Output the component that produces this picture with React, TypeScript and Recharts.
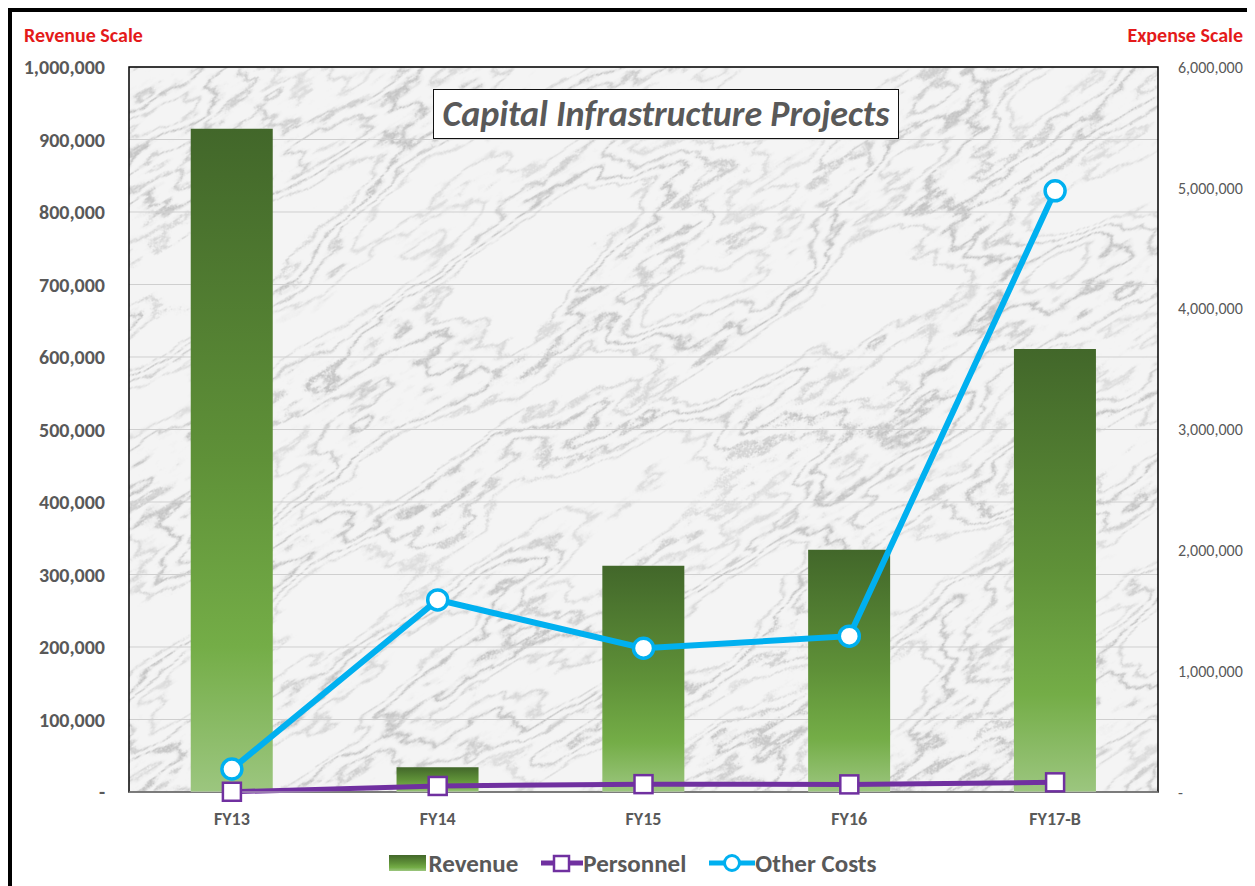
import {
  Bar,
  CartesianGrid,
  ComposedChart,
  Legend,
  Line,
  ReferenceArea,
  XAxis,
  YAxis,
} from "recharts";

const CATEGORIES = ["FY13", "FY14", "FY15", "FY16", "FY17-B"];
const REVENUE = [915000, 34000, 312000, 334000, 611000];
const PERSONNEL = [2000, 50000, 65000, 63000, 80000];
const OTHER_COSTS = [190000, 1590000, 1190000, 1290000, 4975000];

const REVENUE_TICKS = [0, 100000, 200000, 300000, 400000, 500000, 600000, 700000, 800000, 900000, 1000000];
const EXPENSE_TICKS = [0, 1000000, 2000000, 3000000, 4000000, 5000000, 6000000];

const FONT = "Carlito, 'Open Sans', sans-serif";
const GRAY = "#595959";
const RED = "#e41a1a";
const PURPLE = "#7030a0";
const BLUE = "#00b0f0";

const rows = CATEGORIES.map((name, i) => ({
  name,
  Revenue: REVENUE[i],
  Personnel: PERSONNEL[i],
  "Other Costs": OTHER_COSTS[i],
}));

// excel accounting style: zero shows as a dash
const fmt = (v: number) => (v === 0 ? "-" : v.toLocaleString("en-US"));

// marble veins: contour bands of a stretched noise field
const VEINS = "0.96 0.96 0.94 0.86 0.95 0.96 0.96 0.96 0.94 0.8 0.94 0.96 0.96 0.96 0.93 0.76 0.93 0.96 0.96 0.96 0.94 0.84 0.95 0.96 0.96";

const SquareDot = (props: any) => {
  const { cx, cy, index } = props;
  if (cx == null || cy == null) return null;
  return (
    <rect
      key={`sq-${index}`}
      x={cx - 9}
      y={cy - 9}
      width={18}
      height={18}
      fill="#fff"
      stroke={PURPLE}
      strokeWidth={2.5}
    />
  );
};

function LegendBox() {
  const item = { display: "flex", alignItems: "center" };
  return (
    <div
      style={{
        display: "flex",
        justifyContent: "center",
        alignItems: "center",
        gap: 23,
        height: 40,
        fontFamily: FONT,
        fontWeight: 700,
        fontSize: 25,
        color: GRAY,
      }}
    >
      <div style={item}>
        <svg width={40} height={18}>
          <rect x={0} y={1} width={37} height={16} fill="url(#revGrad)" />
        </svg>
        <span>Revenue</span>
      </div>
      <div style={item}>
        <svg width={42} height={20}>
          <line x1={0} y1={10} x2={42} y2={10} stroke={PURPLE} strokeWidth={5} />
          <rect x={13} y={3} width={15} height={15} fill="#fff" stroke={PURPLE} strokeWidth={2.5} />
        </svg>
        <span>Personnel</span>
      </div>
      <div style={item}>
        <svg width={46} height={22}>
          <line x1={0} y1={11} x2={46} y2={11} stroke={BLUE} strokeWidth={5} />
          <circle cx={23} cy={11} r={7.5} fill="#fff" stroke={BLUE} strokeWidth={3} />
        </svg>
        <span>Other Costs</span>
      </div>
    </div>
  );
}

export default function App() {
  return (
    <div
      style={{
        position: "relative",
        width: 1241,
        height: 874,
        marginTop: -1,
        marginLeft: -1,
        borderTop: "5px solid #000",
        borderLeft: "5px solid #000",
        borderRight: "1px solid #000",
        background: "#fff",
      }}
    >
      <ComposedChart
        width={1241}
        height={874}
        data={rows}
        margin={{ top: 55, right: 0, bottom: 3, left: 0 }}
        barCategoryGap="30%"
      >
        <defs>
          <linearGradient id="revGrad" x1="0" y1="0" x2="0" y2="1">
            <stop offset="0%" stopColor="#42672a" />
            <stop offset="50%" stopColor="#5f9138" />
            <stop offset="78%" stopColor="#74ad47" />
            <stop offset="100%" stopColor="#9cc67f" />
          </linearGradient>
          <filter id="marbleNoise" x="0" y="0" width="1" height="1" colorInterpolationFilters="sRGB">
            <feTurbulence type="fractalNoise" baseFrequency="0.0035 0.011" numOctaves="6" seed="11" />
            <feColorMatrix
              type="matrix"
              values="3 0 0 0 -1  3 0 0 0 -1  3 0 0 0 -1  0 0 0 0 1"
            />
            <feComponentTransfer>
              <feFuncR type="table" tableValues={VEINS} />
              <feFuncG type="table" tableValues={VEINS} />
              <feFuncB type="table" tableValues={VEINS} />
            </feComponentTransfer>
            <feGaussianBlur stdDeviation="0.9" />
          </filter>
          <pattern
            id="marble"
            patternUnits="userSpaceOnUse"
            x={-1000}
            y={-1000}
            width={3000}
            height={3000}
            patternTransform="rotate(-32)"
          >
            <rect width={3000} height={3000} fill="#f0f0f0" filter="url(#marbleNoise)" />
          </pattern>
        </defs>
        <CartesianGrid
          yAxisId="left"
          vertical={false}
          stroke="#cfcfcf"
          fill="url(#marble)"
          fillOpacity={1}
        />
        <XAxis
          dataKey="name"
          height={51}
          axisLine={{ stroke: "#bfbfbf" }}
          tickLine={false}
          tickSize={0}
          tickMargin={20}
          tick={{ fontFamily: FONT, fontSize: 18, fontWeight: 700, fill: GRAY }}
        />
        <YAxis
          yAxisId="left"
          width={117}
          domain={[0, 1000000]}
          ticks={REVENUE_TICKS}
          tickFormatter={fmt}
          axisLine={false}
          tickLine={false}
          tickSize={0}
          tickMargin={24}
          tick={{ fontFamily: FONT, fontSize: 20, fontWeight: 700, fill: GRAY }}
          label={{
            content: ({ viewBox }: any) => (
              <text
                x={viewBox.x + 12}
                y={viewBox.y - 25}
                fill={RED}
                fontFamily={FONT}
                fontWeight={700}
                fontSize={20}
              >
                Revenue Scale
              </text>
            ),
          }}
        />
        <YAxis
          yAxisId="right"
          orientation="right"
          width={95}
          domain={[0, 6000000]}
          ticks={EXPENSE_TICKS}
          tickFormatter={fmt}
          axisLine={false}
          tickLine={false}
          tickSize={0}
          tickMargin={20}
          tick={{ fontFamily: FONT, fontSize: 16, fill: GRAY, textAnchor: "start" }}
          label={{
            content: ({ viewBox }: any) => (
              <text
                x={viewBox.x + viewBox.width - 10}
                y={viewBox.y - 25}
                textAnchor="end"
                fill={RED}
                fontFamily={FONT}
                fontWeight={700}
                fontSize={20}
              >
                Expense Scale
              </text>
            ),
          }}
        />
        <ReferenceArea
          yAxisId="left"
          y1={0}
          y2={1000000}
          fill="none"
          stroke="#000"
          strokeWidth={1.5}
        />
        <Bar
          yAxisId="left"
          dataKey="Revenue"
          fill="url(#revGrad)"
          isAnimationActive={false}
        />
        <Line
          yAxisId="right"
          dataKey="Personnel"
          stroke={PURPLE}
          strokeWidth={5}
          dot={<SquareDot />}
          activeDot={false}
          isAnimationActive={false}
        />
        <Line
          yAxisId="right"
          dataKey="Other Costs"
          stroke={BLUE}
          strokeWidth={6}
          dot={{ r: 10, fill: "#fff", stroke: BLUE, strokeWidth: 3.5 }}
          activeDot={false}
          isAnimationActive={false}
        />
        <Legend
          verticalAlign="bottom"
          wrapperStyle={{ height: 40 }}
          content={() => <LegendBox />}
        />
      </ComposedChart>
      <div
        style={{
          position: "absolute",
          left: 421,
          top: 77,
          width: 464,
          height: 48,
          border: "1.5px solid #111",
          background: "#fff",
          display: "flex",
          alignItems: "center",
          justifyContent: "center",
          fontFamily: FONT,
          fontStyle: "italic",
          fontWeight: 700,
          fontSize: 36,
          color: GRAY,
        }}
      >
        Capital Infrastructure Projects
      </div>
    </div>
  );
}
